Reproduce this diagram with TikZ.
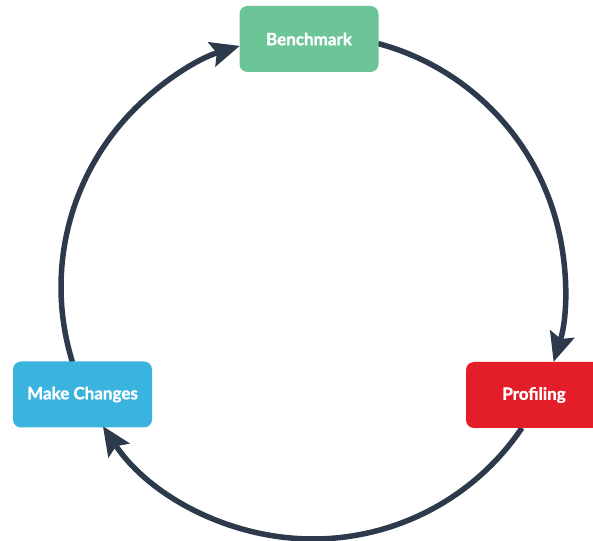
\documentclass[tikz,border=0pt]{standalone}
\usepackage{fontspec}
\newfontfamily\lato{Lato}[BoldFeatures={FakeBold=1.3}]
\usetikzlibrary{arrows.meta}
\definecolor{benchgreen}{HTML}{6CC596}
\definecolor{changeblue}{HTML}{3AB4DF}
\definecolor{profred}{HTML}{E31E28}
\definecolor{arrowdark}{HTML}{2D3A4B}
\tikzset{
  stagebox/.style={rounded corners=8pt, minimum width=139pt, minimum height=66pt,
    inner sep=0pt, text=white, font=\lato\bfseries\fontsize{17}{19}\selectfont},
  cyclearrow/.style={draw=arrowdark, line width=5.5pt,
    -{Stealth[length=29pt,width=25pt,inset=5pt]}}
}
\begin{document}
\begin{tikzpicture}[x=1pt,y=1pt]
\useasboundingbox (0,0) rectangle (593,540);
\clip (0,0) rectangle (593,540);
\fill[white] (0,0) rectangle (593,540);
\coordinate (c) at (313,253);
\draw[cyclearrow] ([shift={(75.05:252)}]c) arc[start angle=75.05, end angle=-17.3, radius=252];
\draw[cyclearrow] ([shift={(-34:252)}]c) arc[start angle=-34, end angle=-146.5, radius=252];
\draw[cyclearrow] ([shift={(197.3:252)}]c) arc[start angle=197.3, end angle=106.9, radius=252];
\node[stagebox, fill=benchgreen] (bench) at (309,501) {Benchmark};
\node[stagebox, fill=changeblue] (mc) at (82.5,145.5) {Make Changes};
\node[stagebox, fill=profred] (prof) at (535.5,145) {\hspace{-3pt}Profiling};
\end{tikzpicture}
\end{document}
